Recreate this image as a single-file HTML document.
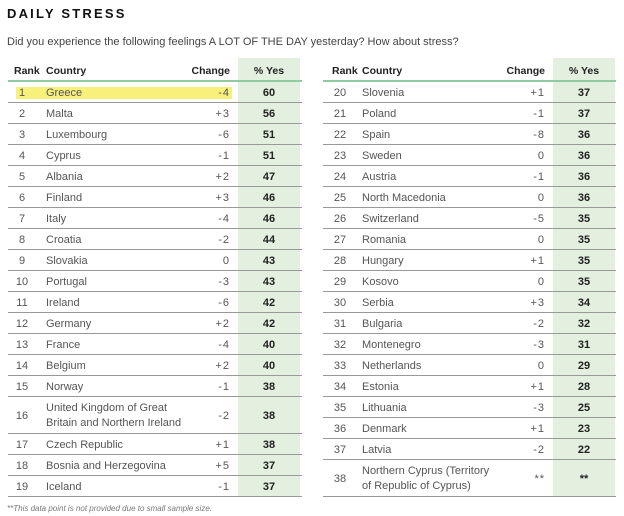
<!DOCTYPE html>
<html><head><meta charset="utf-8"><style>
body{margin:0;width:624px;height:516px;background:#fff;font-family:"Liberation Sans",sans-serif;color:#333;position:relative;overflow:hidden}
.a{position:absolute;white-space:nowrap;line-height:14px}
.t{left:7px;top:7px;font-size:13px;font-weight:bold;letter-spacing:2.2px;color:#111}
.s{left:7px;top:35px;font-size:11px;color:#444}
.g{position:absolute;background:#e3f0df}
.h{font-size:10.5px;font-weight:bold;color:#222}
.c{font-size:11px;color:#555}
.v{font-size:11px;font-weight:bold;color:#222}
.ln{position:absolute;height:1px;background:#999}
.gl{position:absolute;height:2px;background:#8fcaa0}
.f{left:7px;top:502px;font-size:8px;color:#777;font-style:italic}
</style></head><body>
<div class="a t">DAILY STRESS</div>
<div class="a s">Did you experience the following feelings A LOT OF THE DAY yesterday? How about stress?</div>
<div id="root"></div>
<div class="a f">**This data point is not provided due to small sample size.</div>
<script>
const leftRanks=[1,2,3,4,5,6,7,8,9,10,11,12,13,14,15,16,17,18,19];
const leftCountries=["Greece","Malta","Luxembourg","Cyprus","Albania","Finland","Italy","Croatia","Slovakia","Portugal","Ireland","Germany","France","Belgium","Norway","United Kingdom of Great|Britain and Northern Ireland","Czech Republic","Bosnia and Herzegovina","Iceland"];
const leftChange=["-4","+3","-6","-1","+2","+3","-4","-2","0","-3","-6","+2","-4","+2","-1","-2","+1","+5","-1"];
const leftYes=["60","56","51","51","47","46","46","44","43","43","42","42","40","40","38","38","38","37","37"];
const rightRanks=[20,21,22,23,24,25,26,27,28,29,30,31,32,33,34,35,36,37,38];
const rightCountries=["Slovenia","Poland","Spain","Sweden","Austria","North Macedonia","Switzerland","Romania","Hungary","Kosovo","Serbia","Bulgaria","Montenegro","Netherlands","Estonia","Lithuania","Denmark","Latvia","Northern Cyprus (Territory|of Republic of Cyprus)"];
const rightChange=["+1","-1","-8","0","-1","0","-5","0","+1","0","+3","-2","-3","0","+1","-3","+1","-2","**"];
const rightYes=["37","37","36","36","36","36","35","35","35","35","34","32","31","29","28","25","23","22","**"];
const root=document.getElementById('root');
function mk(cls,css,txt){const d=document.createElement('div');d.className=cls;d.style.cssText=css;if(txt!==undefined)d.innerHTML=txt;root.appendChild(d);return d;}
function table(side,L,ranks,countries,change,yes){
  const g=mk('g',`left:${L.gx}px;top:58px;width:${L.gw}px;height:${439}px`);
  
  
  let h;
  h=mk('a h',`left:${L.rank-8}px;top:64px;`,'Rank');
  h=mk('a h',`left:${L.ctry}px;top:64px;`,'Country');
  h=mk('a h',`left:${L.chg-50}px;width:50px;text-align:right;top:64px;`,'Change');
  h=mk('a h',`left:${L.gx}px;width:${L.gw}px;text-align:center;top:64px;`,'% Yes');
  const gl=mk('gl',`left:${L.x0}px;width:${L.x1-L.x0}px;top:80px`);
  
  
  let y=82;
  for(let i=0;i<ranks.length;i++){
    const two=countries[i].includes('|');
    const hh=two?37:21;
    const cy=y+hh/2-7;
    if(side==='left'&&i===0){
      const hl=mk('a',`left:${L.rank-6}px;top:${y+5}px;width:${L.chg-L.rank+8}px;height:12px;background:#f7f07a`);
      
      
    }
    let e=mk('a c',`left:${L.rank-10}px;width:20px;text-align:center;top:${cy}px`,ranks[i]);
    
    
    e=mk('a c',`left:${L.ctry}px;top:${two?y+4:cy}px;${two?'line-height:15px':''}`,countries[i].replace('|','<br>'));
    
    
    e=mk('a c',`left:${L.chg-40}px;width:40px;text-align:right;top:${cy}px;letter-spacing:1px`,change[i]);
    
    
    e=mk('a v',`left:${L.gx}px;width:${L.gw}px;text-align:center;top:${cy}px`,yes[i]);
    
    
    y+=hh;
    const ln=mk('ln',`left:${L.x0}px;width:${L.x1-L.x0}px;top:${y-1}px`);
    
    
  }
}
table('left',{x0:8,x1:302,gx:238,gw:62,rank:22,ctry:46,chg:230},leftRanks,leftCountries,leftChange,leftYes);
table('right',{x0:323,x1:616,gx:553,gw:62,rank:340,ctry:362,chg:545},rightRanks,rightCountries,rightChange,rightYes);
</script>
</body></html>
